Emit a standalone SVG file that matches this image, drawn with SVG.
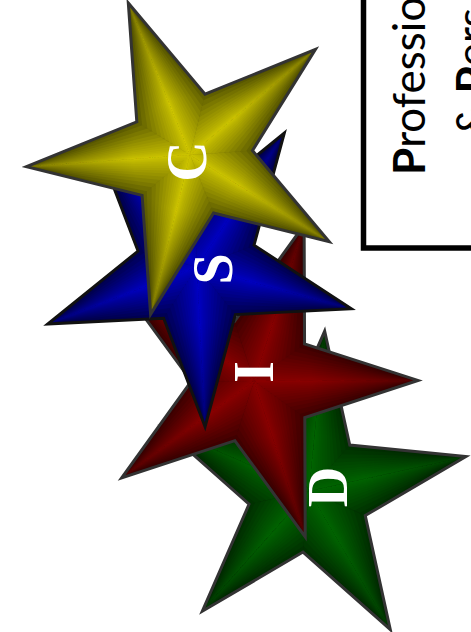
<svg xmlns="http://www.w3.org/2000/svg" xmlns:xlink="http://www.w3.org/1999/xlink" width="471" height="632" viewBox="0 0 471 632">
<style>
.half polygon{fill-opacity:0.09}
.outline{fill:none;stroke:#333;stroke-width:3;stroke-linejoin:miter}
.letter{font-family:"Liberation Serif","Times New Roman",serif;font-weight:bold;font-size:56px;fill:#fff;text-anchor:middle}
.label{font-family:Lato,"Liberation Sans",sans-serif;font-size:44px;fill:#000}
</style>
<defs>
<path id="star" d="M0,-164 L36.82,-50.69 L155.97,-50.68 L59.58,19.36 L96.4,132.68 L0,62.65 L-96.4,132.68 L-59.58,19.36 L-155.97,-50.68 L-36.82,-50.69 Z"/>
<g id="half" class="half">
<polygon points="0,-164 0,0 36.82,-50.69"/>
<polygon points="0,-164 0,0 33.14,-45.62"/>
<polygon points="0,-164 0,0 29.46,-40.55"/>
<polygon points="0,-164 0,0 26.14,-35.99"/>
<polygon points="0,-164 0,0 22.83,-31.43"/>
<polygon points="0,-164 0,0 19.88,-27.37"/>
<polygon points="0,-164 0,0 16.94,-23.32"/>
<polygon points="0,-164 0,0 14.36,-19.77"/>
<polygon points="0,-164 0,0 11.78,-16.22"/>
<polygon points="0,-164 0,0 9.57,-13.18"/>
<polygon points="0,-164 0,0 7.36,-10.14"/>
<polygon points="0,-164 0,0 5.52,-7.6"/>
<polygon points="0,-164 0,0 4.05,-5.58"/>
<polygon points="0,-164 0,0 2.58,-3.55"/>
<polygon points="0,-164 0,0 1.47,-2.03"/>
<polygon points="0,-164 0,0 0.74,-1.01"/>
</g>
<g id="arm"><use href="#half"/><use href="#half" transform="scale(-1,1)"/></g>
<g id="bevel">
<use href="#arm"/><use href="#arm" transform="rotate(72)"/><use href="#arm" transform="rotate(144)"/><use href="#arm" transform="rotate(216)"/><use href="#arm" transform="rotate(288)"/>
</g>
<radialGradient id="shade" gradientUnits="userSpaceOnUse" cx="0" cy="0" r="164">
<stop offset="0" stop-color="#000" stop-opacity="0"/>
<stop offset="0.35" stop-color="#000" stop-opacity="0"/>
<stop offset="1" stop-color="#000" stop-opacity="0.35"/>
</radialGradient>
</defs>

<g id="star-d">
<g transform="translate(309,491) rotate(5.6) scale(0.98)">
<use href="#star" fill="#002a00"/>
<use href="#bevel" fill="#007c00"/>
<use href="#star" fill="url(#shade)"/>
<use href="#star" class="outline"/>
</g>
<text class="letter" transform="translate(346.5,487) rotate(-90)">D</text>
</g>

<g id="star-i">
<g transform="translate(254,381) rotate(17.8)">
<use href="#star" fill="#380000"/>
<use href="#bevel" fill="#a80000"/>
<use href="#star" fill="url(#shade)"/>
<use href="#star" class="outline"/>
</g>
<text class="letter" transform="translate(273,372) rotate(-90)">I</text>
</g>

<g id="star-s">
<g transform="translate(197,267) rotate(33.1) scale(0.975)">
<use href="#star" fill="#000048"/>
<use href="#bevel" fill="#0000e6"/>
<use href="#star" fill="url(#shade)"/>
<use href="#star" class="outline" style="stroke:#111"/>
</g>
<text class="letter" transform="translate(231.5,269) rotate(-90)">S</text>
</g>

<g id="star-c">
<g transform="translate(190,155) rotate(-22.1)">
<use href="#star" fill="#545400"/>
<use href="#bevel" fill="#f2ee00"/>
<use href="#star" fill="url(#shade)"/>
<use href="#star" class="outline"/>
</g>
<text class="letter" transform="translate(205.5,161.5) rotate(-90)">C</text>
</g>

<g id="title-box">
<rect x="363.5" y="-10" width="130" height="258" fill="none" stroke="#000" stroke-width="5.5"/>
<text class="label" transform="translate(425,175) rotate(-90)"><tspan font-weight="bold">P</tspan>rofessio</text>
<text class="label" transform="translate(488,136) rotate(-90)">&amp; <tspan font-weight="bold">P</tspan>ers</text>
</g>
</svg>
